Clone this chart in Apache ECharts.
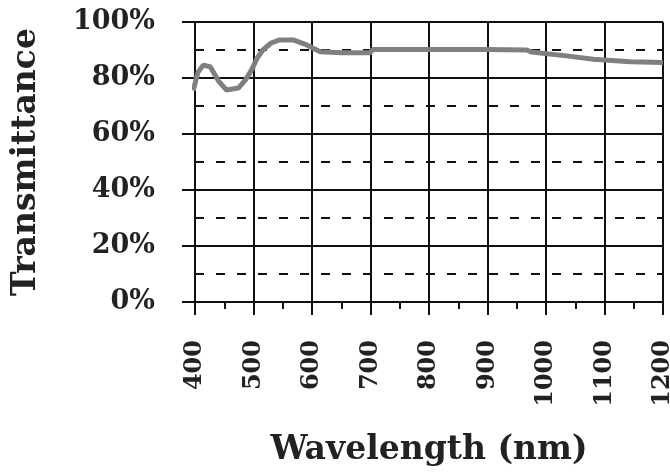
<!DOCTYPE html>
<html>
<head>
<meta charset="utf-8">
<script src="https://cdn.jsdelivr.net/npm/echarts@6/dist/echarts.min.js"></script>
<style>
html, body { margin:0; padding:0; background:#fff; }
#chart { width:670px; height:475px; }
</style>
</head>
<body>
<div id="chart"></div>
<script>
// wavelength (nm) and transmittance (%)
var wavelength = [397, 405, 414, 426, 440, 454, 474, 487, 497, 506, 516, 530, 545, 568, 591, 614, 650, 699, 704, 800, 900, 967, 975, 1035, 1081, 1144, 1200];
var transmittance = [75.5, 82, 84.6, 84, 79, 75.7, 76.4, 79.5, 83, 87, 90, 92.5, 93.6, 93.6, 91.8, 89.4, 89, 89, 90.2, 90.2, 90.2, 90, 89.3, 87.9, 86.7, 85.8, 85.5];
var xTicks = { min: 400, max: 1200, step: 100 };
var yTicks = { min: 0, max: 100, step: 20 };

var points = [];
for (var i = 0; i < wavelength.length; i++) {
    points.push([wavelength[i], transmittance[i]]);
}

var font = 'DejaVu Serif';
var option = {
    animation: false,
    backgroundColor: '#fff',
    grid: { left: 195, right: 7, top: 22, bottom: 173, outerBoundsMode: 'none' },
    xAxis: {
        type: 'value',
        min: xTicks.min, max: xTicks.max, interval: xTicks.step,
        name: 'Wavelength (nm)',
        nameLocation: 'middle',
        nameGap: 132,
        nameTextStyle: { fontFamily: font, fontWeight: 'bold', fontSize: 33, color: '#222' },
        axisLine: { lineStyle: { color: '#111', width: 2 } },
        axisTick: { length: 13, lineStyle: { color: '#111', width: 2 } },
        minorTick: { show: true, splitNumber: 2, length: 7, lineStyle: { color: '#111', width: 2 } },
        splitLine: { show: true, lineStyle: { color: '#111', width: 2 } },
        axisLabel: {
            rotate: 90, margin: 38, fontFamily: font, fontWeight: 'bold', fontSize: 24, color: '#222',
            formatter: function (v) { return String(v); }
        }
    },
    yAxis: {
        type: 'value',
        min: yTicks.min, max: yTicks.max, interval: yTicks.step,
        name: 'Transmittance',
        nameLocation: 'middle',
        nameGap: 152,
        nameTextStyle: { fontFamily: font, fontWeight: 'bold', fontSize: 33, color: '#222' },
        axisLine: { show: true, lineStyle: { color: '#111', width: 2 } },
        axisTick: { show: true, length: 13, lineStyle: { color: '#111', width: 2 } },
        minorTick: { show: true, splitNumber: 2, length: 0 },
        splitLine: { show: true, lineStyle: { color: '#111', width: 2 } },
        minorSplitLine: { show: true, lineStyle: { color: '#111', width: 2, type: [9, 12] } },
        axisLabel: { margin: 40, formatter: '{value}%', fontFamily: font, fontWeight: 'bold', fontSize: 27, color: '#222' }
    },
    series: [{
        type: 'line',
        data: points,
        showSymbol: false,
        lineStyle: { color: '#808080', width: 5 },
        z: 3
    }]
};
echarts.init(document.getElementById('chart')).setOption(option);
</script>
</body>
</html>
